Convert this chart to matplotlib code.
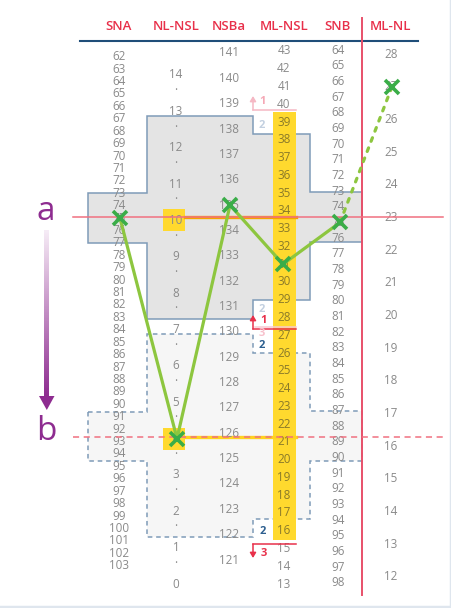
import numpy as np
import matplotlib.pyplot as plt
from matplotlib.patches import Polygon, Rectangle, FancyArrowPatch
from matplotlib.colors import LinearSegmentedColormap

plt.rcParams['font.family'] = ['Open Sans', 'DejaVu Sans']

# ---- data ----
columns = ["SNA", "NL-NSL", "NSBa", "ML-NSL", "SNB", "ML-NL"]
sna_vals = list(range(62, 104))
nlnsl_vals = list(range(14, -1, -1))
nsba_vals = list(range(141, 120, -1))
mlnsl_vals = list(range(43, 12, -1))
snb_vals = list(range(64, 99))
mlnl_vals = list(range(28, 11, -1))

# patient values (green crosses)
patient = {"SNA": 75, "NL-NSL": 4, "NSBa": 135, "ML-NSL": 31, "SNB": 75, "ML-NL": 27}

# norm ranges per column (top value, bottom value)
norm_a = {"SNA": (73, 77), "NSBa": (138.5, 130.5), "ML-NSL": (38.35, 29), "SNB": (73.05, 76.25)}
norm_b = {"SNA": (90.6, 94.6), "NSBa": (129.9, 121.9), "ML-NSL": (26, 16.65), "SNB": (87.05, 90.2)}

# ---- layout: column x and value -> y scale (first value, y, last value, y) ----
col_x = {"SNA": 119, "NL-NSL": 176, "NSBa": 229, "ML-NSL": 284, "SNB": 338, "ML-NL": 391}
scale = {"SNA": (62, 56.7, 103, 565.7),
         "NL-NSL": (14, 75, 0, 584),
         "NSBa": (141, 53, 121, 560),
         "ML-NSL": (43, 51, 13, 584),
         "SNB": (64, 50, 98, 583),
         "ML-NL": (28, 54, 12, 577)}


def yv(col, v):
    v0, y0, v1, y1 = scale[col]
    return y0 + (v - v0) * (y1 - y0) / (v1 - v0)


Y_A, Y_B = 217, 437
gray = "#8a8a8a"
red = "#e8304a"
border = "#7f9bb8"

fig = plt.figure(figsize=(4.52, 6.08), dpi=100)
ax = fig.add_axes([0, 0, 1, 1])
ax.set_xlim(0, 452)
ax.set_ylim(608, 0)
ax.axis("off")


def region(rng, ls, fc):
    xs = [88, 147, 253, 310, 362]
    t = [yv("SNA", rng["SNA"][0]), yv("NSBa", rng["NSBa"][0]), yv("ML-NSL", rng["ML-NSL"][0]), yv("SNB", rng["SNB"][0])]
    b = [yv("SNA", rng["SNA"][1]), yv("NSBa", rng["NSBa"][1]), yv("ML-NSL", rng["ML-NSL"][1]), yv("SNB", rng["SNB"][1])]
    pts = []
    for i in range(4):
        pts += [(xs[i], t[i]), (xs[i + 1], t[i])]
    for i in range(3, -1, -1):
        pts += [(xs[i + 1], b[i]), (xs[i], b[i])]
    ax.add_patch(Polygon(pts, closed=True, fc=fc, ec=border, lw=1.1, ls=ls, zorder=1))


region(norm_a, "-", "#e4e4e4")
region(norm_b, (0, (3, 2.5)), "#f6f6f6")

# yellow highlights
ax.add_patch(Rectangle((273, yv("ML-NSL", 39.55)), 23, yv("ML-NSL", 15.5) - yv("ML-NSL", 39.55),
                       fc="#ffd92e", ec="none", zorder=2))
for v in [10, 4]:
    yc = yv("NL-NSL", v)
    ax.add_patch(Rectangle((163, yc - 11), 22, 22, fc="#ffd92e", ec="none", zorder=2))
ax.plot([185, 296], [Y_A, Y_A], color="#f5a300", lw=2.4, zorder=3)
ax.plot([185, 296], [Y_B, Y_B], color="#ffd21f", lw=2.4, zorder=3)

# header
for c in columns:
    ax.text(col_x[c], 26, c, color=red, fontsize=9.5, fontweight="semibold", ha="center", va="center")
ax.plot([80, 418], [40.5, 40.5], color="#1f4e79", lw=1.5)
ax.plot([362, 362], [18, 595], color="#e8506a", lw=1.4, zorder=4)

# tick labels
for c, vals in [("SNA", sna_vals), ("NSBa", nsba_vals), ("ML-NSL", mlnsl_vals), ("SNB", snb_vals), ("ML-NL", mlnl_vals)]:
    for v in vals:
        colr = "#8a7a2a" if (c == "ML-NSL" and 16 <= v <= 39) else gray
        ax.text(col_x[c], yv(c, v), str(v), color=colr, fontsize=8.4, ha="center", va="center", zorder=5)
for v in nlnsl_vals:
    ax.text(col_x["NL-NSL"], yv("NL-NSL", v), str(v), color=gray, fontsize=8.4, ha="center", va="center", zorder=5)
    if v > 0:
        ax.text(col_x["NL-NSL"], yv("NL-NSL", v - 0.5), ".", color=gray, fontsize=8.4, ha="center", va="bottom", zorder=5)

# reference lines a / b
ax.plot([73, 443], [Y_A, Y_A], color="#f07080", lw=1.1, zorder=6)
ax.plot([73, 443], [Y_B, Y_B], color="#f07080", lw=1.1, ls=(0, (4, 3)), zorder=6)
purple = "#8e2c90"
ax.text(46, 212, "a", color=purple, fontsize=24, ha="center", va="center")
ax.text(46, 431, "b", color=purple, fontsize=24, ha="center", va="center")
cmap = LinearSegmentedColormap.from_list("p", ["#f6ecf6", purple])
ax.imshow(np.linspace(0, 1, 200).reshape(-1, 1), cmap=cmap, extent=(44.3, 49.3, 397, 230),
          aspect="auto", zorder=3)
ax.add_patch(Polygon([(39, 396), (54.5, 396), (46.8, 410)], fc=purple, ec="none", zorder=3))
ax.set_xlim(0, 452)
ax.set_ylim(608, 0)

# small annotations
def arrow(x, y0, y1, color):
    ax.add_patch(FancyArrowPatch((x, y0), (x, y1), arrowstyle="-|>,head_length=3,head_width=1.8",
                                 color=color, lw=1.1, zorder=6, shrinkA=0, shrinkB=0))


arrow(253, 110, 96, "#f5b8c4")
ax.plot([253, 296], [110, 110], color="#f5b8c4", lw=1.1, zorder=6)
ax.text(263, 101, "1", color="#f5a8b6", fontsize=8, fontweight="bold", ha="center", va="center")
ax.text(262, 125, "2", color="#c3d0e0", fontsize=8, fontweight="bold", ha="center", va="center")
ax.text(262, 309, "2", color="#c3d0e0", fontsize=8, fontweight="bold", ha="center", va="center")
ax.plot([255, 296], [326.5, 326.5], color="#f9c9d2", lw=1.1, zorder=6)
arrow(253, 329, 315, red)
ax.plot([253, 296], [329, 329], color=red, lw=1.1, zorder=6)
ax.text(264, 320.5, "1", color=red, fontsize=8, fontweight="bold", ha="center", va="center", zorder=7)
ax.text(262, 333.5, "3", color="#f7c0cb", fontsize=8, fontweight="bold", ha="center", va="center", zorder=7)
ax.text(262, 345, "2", color="#2d5f8f", fontsize=8, fontweight="bold", ha="center", va="center", zorder=7)
ax.text(263, 531, "2", color="#2d5f8f", fontsize=8, fontweight="bold", ha="center", va="center", zorder=7)
ax.plot([253, 296], [544, 544], color=red, lw=1.1, zorder=6)
arrow(253, 544, 558, red)
ax.text(264, 554, "3", color=red, fontsize=8, fontweight="bold", ha="center", va="center", zorder=7)

# patient polyline
px = [col_x[c] + d for c, d in zip(columns, [1, 1, 1, -1, 2, 1])]
py = [yv(c, patient[c]) for c in columns]
ax.plot(px[:5], py[:5], color="#8dc63f", lw=2.3, zorder=8, solid_capstyle="round")
ax.plot(px[4:], py[4:], color="#8dc63f", lw=2.3, ls=(0, (1.2, 2.2)), dash_capstyle="round", zorder=8)
ax.plot(px, py, ls="none", marker="x", ms=10, mew=2.6, color="#3aad48", zorder=9)

# frame edge
ax.plot([0, 452], [607, 607], color="#dfe6ee", lw=2.5)
ax.plot([451, 451], [0, 608], color="#dfe6ee", lw=2.5)

fig.savefig("out.png", dpi=100)
